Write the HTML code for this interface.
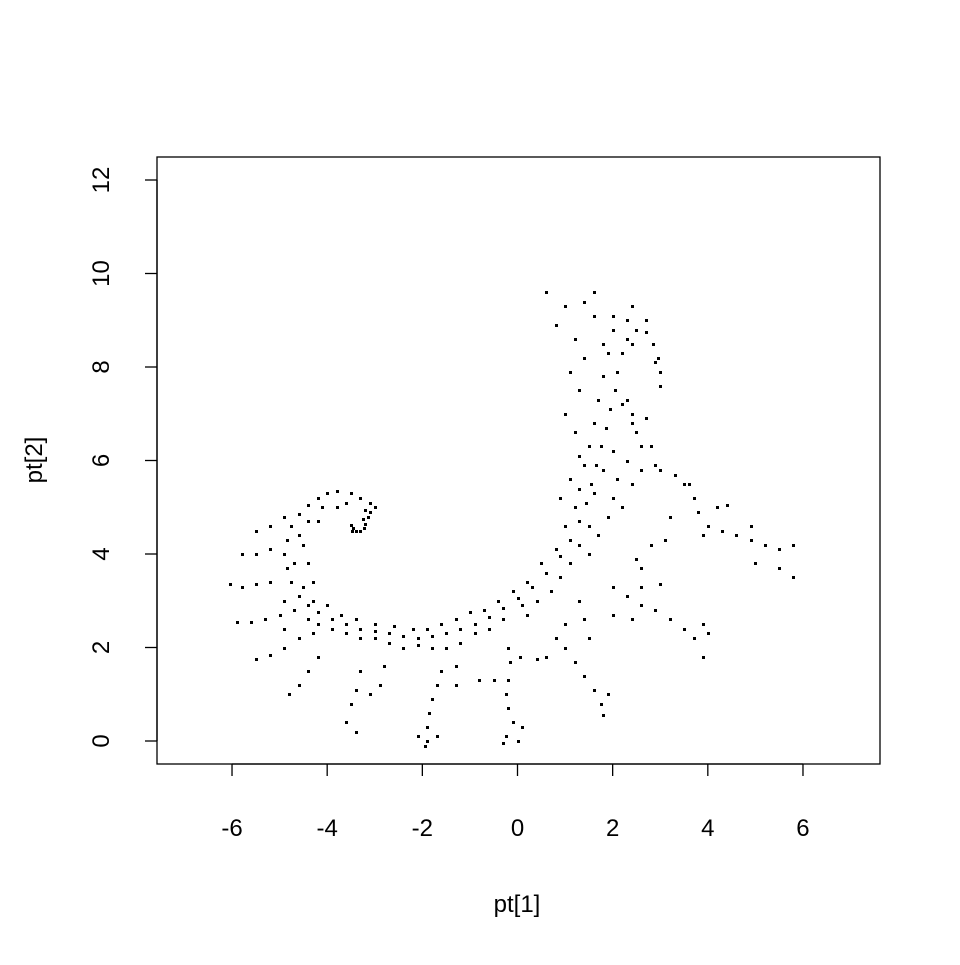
<!DOCTYPE html>
<html><head><meta charset="utf-8"><style>
html,body{margin:0;padding:0;background:#fff;}
svg text{font-family:"Liberation Sans",Arial,sans-serif;font-size:24px;fill:#000;}
</style></head><body>
<svg id="chart" width="960" height="960" xmlns="http://www.w3.org/2000/svg">
<rect x="157" y="157" width="723" height="607" fill="none" stroke="#000" stroke-width="1.3"/>
<g id="axes"></g>
<g id="points"></g>
<text x="517" y="912" text-anchor="middle">pt[1]</text>
<text transform="translate(42,460) rotate(-90)" text-anchor="middle">pt[2]</text>
</svg>
<script>
const xTicks=[-6,-4,-2,0,2,4,6];
const yTicks=[0,2,4,6,8,10,12];
const xs=[-3.45,-3.4,-3.3,-3.22,-3.2,-3.25,-3.5,-3.48,-3.15,-3.1,
-3.0,-3.1,-3.3,-3.5,-3.8,-4.0,-4.2,-4.4,-4.6,-4.75,-4.85,-4.9,-4.85,-4.75,-4.6,-4.4,-4.2,-3.9,-3.6,-3.3,-3.0,-2.7,-2.4,-2.1,-1.8,-1.5,-1.2,-0.9,-0.6,-0.3,0,0.3,0.6,0.9,1.1,1.3,1.45,1.55,1.65,1.75,1.85,1.95,2.05,2.1,2.2,2.3,2.5,2.7,2.85,2.95,3.0,
-3.2,-3.6,-4.1,-4.4,-4.6,-4.7,-4.5,-4.3,-4.0,-3.7,-3.4,-3.0,-2.6,-2.2,-1.9,-1.6,-1.3,-1.0,-0.7,-0.4,-0.1,0.2,0.5,0.8,1.0,1.2,1.3,1.4,1.5,1.6,1.7,1.8,1.9,2.0,1.6,1.4,1.6,1.0,0.8,0.6,1.2,1.4,1.1,1.3,1.0,1.2,1.3,1.1,0.9,2.3,2.4,2.5,2.6,2.3,2.1,2.0,1.9,1.7,1.5,2.2,2.4,2.6,2.4,2.2,2.7,2.4,2.3,2.0,1.8,2.0,1.8,1.6,1.5,1.3,1.1,0.9,0.7,0.4,0.1,0.2,-0.3,-0.6,-0.9,-1.2,-1.5,-1.8,-2.1,-2.4,-2.7,-3.0,-3.3,-3.6,-3.9,-4.2,-4.4,
-4.9,-5.2,-5.5,-5.2,-5.5,-5.8,-5.2,-5.5,-5.8,-6.05,-5.0,-5.3,-5.6,-5.9,-4.6,-4.9,-5.2,-5.5,-4.2,-4.4,-4.6,-4.8,-3.3,-3.4,-3.5,-3.6,-3.4,-2.8,-2.9,-3.1,
-1.6,-1.7,-1.8,-1.85,-1.9,-1.9,-1.95,-1.7,-2.1,-1.3,-1.3,-0.8,-0.5,
-0.2,-0.15,-0.2,-0.25,-0.2,-0.1,-0.25,-0.3,0.1,0.0,0.05,
0.8,1.0,1.2,1.4,1.6,1.75,1.8,1.9,0.6,0.4,
2.0,2.3,2.6,2.9,3.2,3.5,3.7,3.9,3.9,4.0,2.6,3.0,
1.3,1.4,1.5,1.0,2.0,2.4,2.6,2.8,2.5,
3.0,3.3,3.6,3.7,3.8,4.0,4.3,4.6,4.9,5.2,5.5,5.8,5.5,5.8,5.0,3.9,4.2,4.4,4.9,3.5,3.2,3.1,2.8,2.9,3.0,2.9,2.7,2.4,
-4.9,-4.7,-4.3,-4.4,-4.5,-4.2,-3.8,-4.3,-4.9];
const ys=[4.55,4.5,4.5,4.55,4.65,4.75,4.62,4.5,4.8,4.9,
5.0,5.1,5.2,5.3,5.35,5.3,5.2,5.05,4.85,4.6,4.3,4.0,3.7,3.4,3.1,2.9,2.75,2.6,2.5,2.4,2.35,2.3,2.25,2.2,2.25,2.3,2.4,2.5,2.65,2.85,3.05,3.3,3.6,3.95,4.3,4.7,5.1,5.5,5.9,6.3,6.7,7.1,7.5,7.9,8.3,8.6,8.8,8.75,8.5,8.2,7.9,
4.95,5.1,5.0,4.7,4.4,3.8,3.3,3.0,2.9,2.7,2.6,2.5,2.45,2.4,2.4,2.5,2.6,2.75,2.8,3.0,3.2,3.4,3.8,4.1,4.6,5.0,5.4,5.9,6.3,6.8,7.3,7.8,8.3,8.8,9.1,9.4,9.6,9.3,8.9,9.6,8.6,8.2,7.9,7.5,7.0,6.6,6.1,5.6,5.2,7.3,7.0,6.6,6.3,6.0,5.6,5.2,4.8,4.4,4.0,5.0,5.5,5.8,6.8,7.2,6.9,9.3,9.0,9.1,8.5,6.2,5.8,5.3,4.6,4.2,3.8,3.5,3.2,3.0,2.9,2.7,2.6,2.4,2.3,2.1,2.0,2.0,2.05,2.0,2.1,2.2,2.2,2.3,2.4,2.5,2.6,
4.8,4.6,4.5,4.1,4.0,4.0,3.4,3.35,3.3,3.35,2.7,2.6,2.55,2.55,2.2,2.0,1.85,1.75,1.8,1.5,1.2,1.0,1.5,1.1,0.8,0.4,0.2,1.6,1.2,1.0,
1.5,1.2,0.9,0.6,0.3,0.0,-0.1,0.1,0.1,1.6,1.2,1.3,1.3,
2.0,1.7,1.3,1.0,0.7,0.4,0.1,-0.05,0.3,0.0,1.8,
2.2,2.0,1.7,1.4,1.1,0.8,0.55,1.0,1.8,1.75,
3.3,3.1,2.9,2.8,2.6,2.4,2.2,1.8,2.5,2.3,3.3,3.35,
3.0,2.6,2.2,2.5,2.7,2.6,3.7,4.2,3.9,
5.8,5.7,5.5,5.2,4.9,4.6,4.5,4.4,4.3,4.2,4.1,4.2,3.7,3.5,3.8,4.4,5.0,5.05,4.6,5.5,4.8,4.3,6.3,5.9,7.6,8.1,9.0,8.5,
3.0,2.8,3.4,3.8,4.2,4.7,5.0,2.3,2.4];
const X0=517.5,SX=47.58,Y0=741,SY=46.75;
function sx(v){return X0+v*SX;}
function sy(v){return Y0-v*SY;}
const NS="http://www.w3.org/2000/svg";
const ax=document.getElementById('axes');
function line(x1,y1,x2,y2,name){const l=document.createElementNS(NS,'line');
l.setAttribute('x1',x1);l.setAttribute('y1',y1);l.setAttribute('x2',x2);l.setAttribute('y2',y2);
l.setAttribute('stroke','#000');l.setAttribute('stroke-width','1.3');


ax.appendChild(l);}
line(sx(xTicks[0]),764,sx(xTicks[xTicks.length-1]),764,'x-axis-line');
line(157,sy(yTicks[0]),157,sy(yTicks[yTicks.length-1]),'y-axis-line');
xTicks.forEach(t=>{line(sx(t),764,sx(t),776,'x-tick');
const tx=document.createElementNS(NS,'text');tx.setAttribute('x',sx(t));tx.setAttribute('y',836);
tx.setAttribute('text-anchor','middle');tx.textContent=t;


ax.appendChild(tx);});
yTicks.forEach(t=>{line(145,sy(t),157,sy(t),'y-tick');
const tx=document.createElementNS(NS,'text');
tx.setAttribute('transform','translate(109,'+sy(t)+') rotate(-90)');
tx.setAttribute('text-anchor','middle');tx.textContent=t;


ax.appendChild(tx);});
const pg=document.getElementById('points');
for(let i=0;i<xs.length;i++){const r=document.createElementNS(NS,'rect');
r.setAttribute('x',Math.round(sx(xs[i]))-1);r.setAttribute('y',Math.round(sy(ys[i]))-1);r.setAttribute('width',3);r.setAttribute('height',3);r.setAttribute('fill','#000');


pg.appendChild(r);}
</script>
</body></html>
